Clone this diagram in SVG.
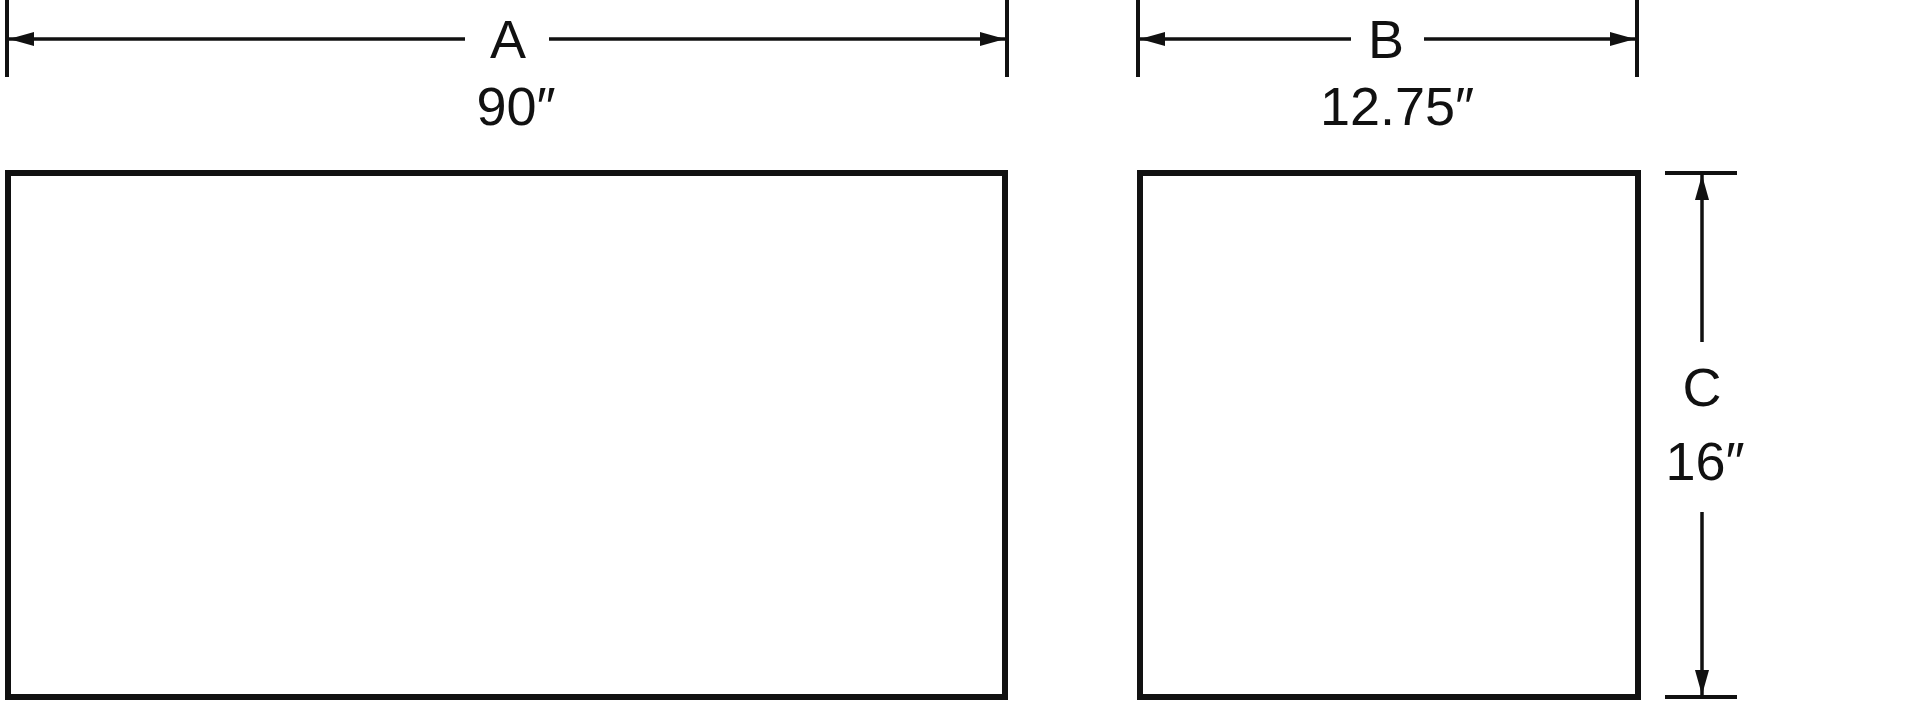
<svg xmlns="http://www.w3.org/2000/svg" width="1920" height="703" viewBox="0 0 1920 703">
  <defs>
    <marker id="arrow" markerUnits="userSpaceOnUse" markerWidth="28" markerHeight="18" refX="25" refY="9" orient="auto">
      <path d="M0,2 L25,9 L0,16 Z" fill="#111"/>
    </marker>
    <style>
      .box { fill: #fff; stroke: #111; stroke-width: 6; }
      .dim { stroke: #111; stroke-width: 3.5; fill: none; }
      .tick { stroke: #111; stroke-width: 4; fill: none; }
      .lbl { font-family: "Liberation Sans", Arial, sans-serif; font-size: 54px; fill: #111; text-anchor: middle; }
    </style>
  </defs>
  <rect width="1920" height="703" fill="#fff"/>

  <g id="front-panel">
    <rect class="box" x="8" y="173" width="997" height="524"/>
  </g>
  <g id="side-panel">
    <rect class="box" x="1140" y="173" width="498" height="524"/>
  </g>

  <g id="connectors">
    <!-- A dimension -->
    <line class="tick" x1="7" y1="0" x2="7" y2="77"/>
    <line class="tick" x1="1007" y1="0" x2="1007" y2="77"/>
    <path class="dim" d="M465,39 L9,39" marker-end="url(#arrow)"/>
    <path class="dim" d="M549,39 L1005,39" marker-end="url(#arrow)"/>
    <!-- B dimension -->
    <line class="tick" x1="1138" y1="0" x2="1138" y2="77"/>
    <line class="tick" x1="1637" y1="0" x2="1637" y2="77"/>
    <path class="dim" d="M1351,39 L1140,39" marker-end="url(#arrow)"/>
    <path class="dim" d="M1424,39 L1635,39" marker-end="url(#arrow)"/>
    <!-- C dimension -->
    <line class="tick" x1="1665" y1="173" x2="1737" y2="173"/>
    <line class="tick" x1="1665" y1="697" x2="1737" y2="697"/>
    <path class="dim" d="M1702,342 L1702,175" marker-end="url(#arrow)"/>
    <path class="dim" d="M1702,512 L1702,695" marker-end="url(#arrow)"/>
  </g>

  <g id="labels">
    <text class="lbl" x="508" y="58">A</text>
    <text class="lbl" x="516" y="125">90″</text>
    <text class="lbl" x="1386" y="58">B</text>
    <text class="lbl" x="1397" y="125">12.75″</text>
    <text class="lbl" x="1702" y="406">C</text>
    <text class="lbl" x="1705" y="480">16″</text>
  </g>
</svg>
